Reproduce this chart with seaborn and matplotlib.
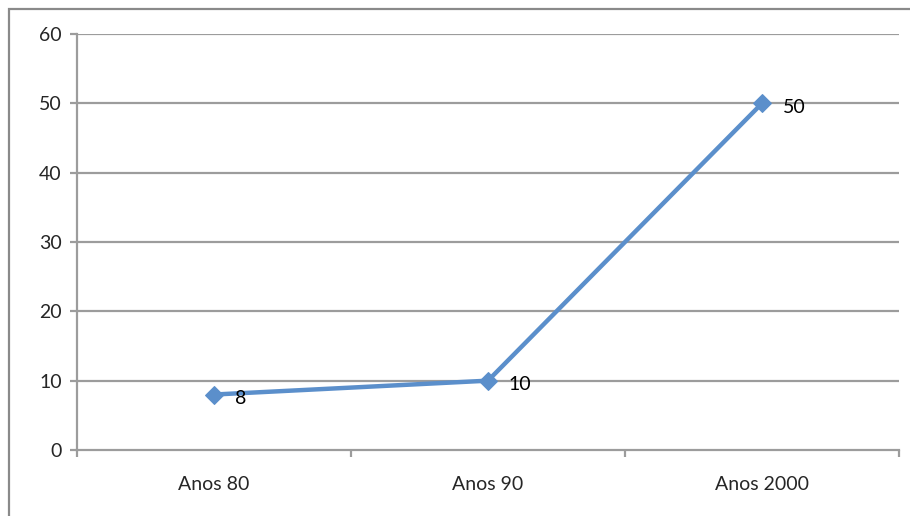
import matplotlib
matplotlib.use("Agg")
import matplotlib.pyplot as plt
import seaborn as sns
import pandas as pd
from matplotlib.patches import Rectangle

# data
categorias = ["Anos 80", "Anos 90", "Anos 2000"]
valores = [8, 10, 50]
y_ticks = [0, 10, 20, 30, 40, 50, 60]

sns.set_theme(style="white")
plt.rcParams["font.family"] = ["Lato", "DejaVu Sans"]

df = pd.DataFrame({"periodo": categorias, "valor": valores})
df["pos"] = range(len(categorias))

fig = plt.figure(figsize=(9.10, 5.16), dpi=100)
ax = fig.add_axes([77 / 910, (516 - 450) / 516, (899 - 77) / 910, (450 - 34) / 516])

grid_c = "#9c9c9c"
line_c = "#5b8fcb"

sns.lineplot(data=df, x="pos", y="valor", ax=ax, color=line_c, linewidth=3.2,
             marker="D", markersize=9, markeredgecolor=line_c, zorder=3)

for x, v in zip(df["pos"], valores):
    ax.annotate(str(v), (x, v), xytext=(15, -3), textcoords="offset points",
                ha="left", va="center", fontsize=14, color="black")

ax.set_xlim(-0.5, len(categorias) - 0.5)
ax.set_ylim(0, 60)
ax.set_yticks(y_ticks)
ax.set_xticks(df["pos"])
ax.set_xticklabels(categorias)
ax.set_xticks([i - 0.5 for i in range(len(categorias) + 1)], minor=True)
ax.set_xlabel("")
ax.set_ylabel("")

for y in y_ticks[1:]:
    ax.axhline(y, color=grid_c, linewidth=1.6, zorder=1)

for s in ["top", "right"]:
    ax.spines[s].set_visible(False)
for s in ["left", "bottom"]:
    ax.spines[s].set_color(grid_c)
    ax.spines[s].set_linewidth(1.6)

ax.tick_params(axis="y", length=5, width=1.6, color=grid_c, labelsize=14, pad=6, left=True)
ax.tick_params(axis="x", which="major", length=0, labelsize=14, pad=19)
ax.tick_params(axis="x", which="minor", length=5, width=1.6, color=grid_c, bottom=True)

# outer chart border
fig.patches.append(Rectangle((9 / 910, -0.2), 1.2, 1.2 - 9 / 516,
                             transform=fig.transFigure, fill=False,
                             edgecolor="#8a8a8a", linewidth=1.6, zorder=0))

fig.savefig("out.png", dpi=100)
